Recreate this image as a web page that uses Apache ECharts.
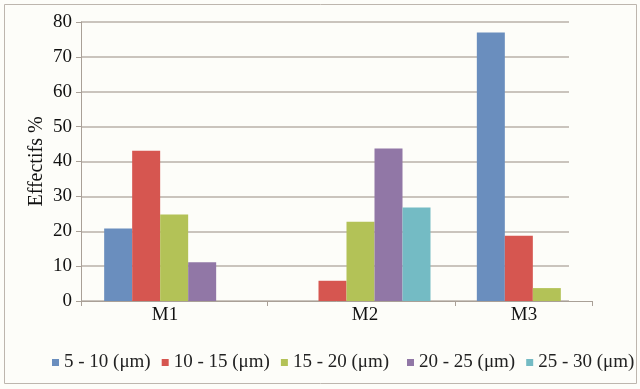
<!DOCTYPE html>
<html>
<head>
<meta charset="utf-8">
<script src="https://cdn.jsdelivr.net/npm/echarts@6/dist/echarts.min.js"></script>
<style>
html, body { margin: 0; padding: 0; background: #fff; }
#chart { width: 640px; height: 389px; }
</style>
</head>
<body>
<div id="chart"></div>
<script>
var categories = ['M1', 'M2', 'M3'];
var classNames = ['5 - 10 (μm)', '10 - 15 (μm)', '15 - 20 (μm)', '20 - 25 (μm)', '25 - 30 (μm)'];
var colors = ['#6a8ebe', '#d65650', '#b3c257', '#9177a6', '#74bbc4'];

// Effectifs % per size class, for M1, M2, M3
var c5_10  = [20.8, 0,    77.0];
var c10_15 = [43.1, 5.8,  18.7];
var c15_20 = [24.8, 22.7, 3.7];
var c20_25 = [11.1, 43.7, 0];
var c25_30 = [0,    26.8, 0];
var allClasses = [c5_10, c10_15, c15_20, c20_25, c25_30];

var yMax = 80;
var yStep = 10;

var font = "Liberation Serif";
var lineCol = '#b9b1a9';

// the drawn x axis of the source is uneven: ticks and label spots along it
var xTickAt = [0, 186, 374, 511];
var xLabelAt = [84, 284, 443];

var myChart = echarts.init(document.getElementById('chart'));

var series = [];
for (var i = 0; i < allClasses.length; i++) {
  series.push({
    name: classNames[i],
    type: 'bar',
    xAxisIndex: 0,
    yAxisIndex: 0,
    data: allClasses[i],
    barWidth: 28,
    barGap: '0%',
    itemStyle: { color: colors[i] },
    silent: true
  });
}

var legendBase = {
  top: 353,
  padding: 0,
  width: 400,
  icon: 'rect',
  itemWidth: 7,
  itemHeight: 7,
  itemGap: 11,
  textStyle: { fontFamily: font, fontSize: 19, color: '#222' }
};

var option = {
  backgroundColor: '#fdfdf9',
  animation: false,
  color: colors,
  graphic: [{
    type: 'rect',
    shape: { x: 4.5, y: 4.5, width: 632, height: 379 },
    style: { fill: 'none', stroke: '#bdb6ae', lineWidth: 1 },
    z: -1
  }],
  legend: [
    Object.assign({}, legendBase, { data: classNames.slice(0, 3), left: 52 }),
    Object.assign({}, legendBase, { data: classNames.slice(3), left: 407, width: 230 })
  ],
  grid: [
    // bars
    { left: 81, width: 561, top: 22, height: 279 },
    // y axis + gridlines
    { left: 81, width: 488, top: 22, height: 279 },
    // x axis line, ticks, labels
    { left: 81, width: 511, top: 22, height: 279 }
  ],
  xAxis: [{
    gridIndex: 0,
    type: 'category',
    data: categories,
    show: false
  }, {
    gridIndex: 1,
    type: 'value',
    min: 0, max: 1,
    show: false
  }, {
    gridIndex: 2,
    type: 'value',
    min: 0,
    max: xTickAt[xTickAt.length - 1],
    axisLine: { show: true, lineStyle: { color: '#a9a097', width: 1 } },
    axisTick: { show: true, length: 5, customValues: xTickAt, lineStyle: { color: '#a9a097' } },
    axisLabel: {
      customValues: xLabelAt,
      margin: 5,
      fontFamily: font,
      fontSize: 19,
      color: '#111',
      formatter: function (v) {
        var k = xLabelAt.indexOf(v);
        return k >= 0 ? categories[k] : '';
      }
    },
    splitLine: { show: false }
  }],
  yAxis: [{
    gridIndex: 0,
    type: 'value',
    min: 0, max: yMax,
    show: false
  }, {
    gridIndex: 1,
    type: 'value',
    min: 0, max: yMax, interval: yStep,
    name: 'Effectifs %',
    nameLocation: 'middle',
    nameRotate: 90,
    nameGap: 34,
    nameMoveOverlap: false,
    nameTextStyle: { fontFamily: font, fontSize: 20, color: '#111' },
    axisLine: { show: true, lineStyle: { color: '#a9a097', width: 1 } },
    axisTick: { show: true, length: 5, lineStyle: { color: '#a9a097' } },
    axisLabel: { margin: 9, fontFamily: font, fontSize: 19, color: '#111' },
    splitLine: { show: true, lineStyle: { color: lineCol, width: 1.5 } }
  }, {
    gridIndex: 2,
    type: 'value',
    min: 0, max: 1,
    show: false
  }],
  series: series
};

myChart.setOption(option);
</script>
</body>
</html>
